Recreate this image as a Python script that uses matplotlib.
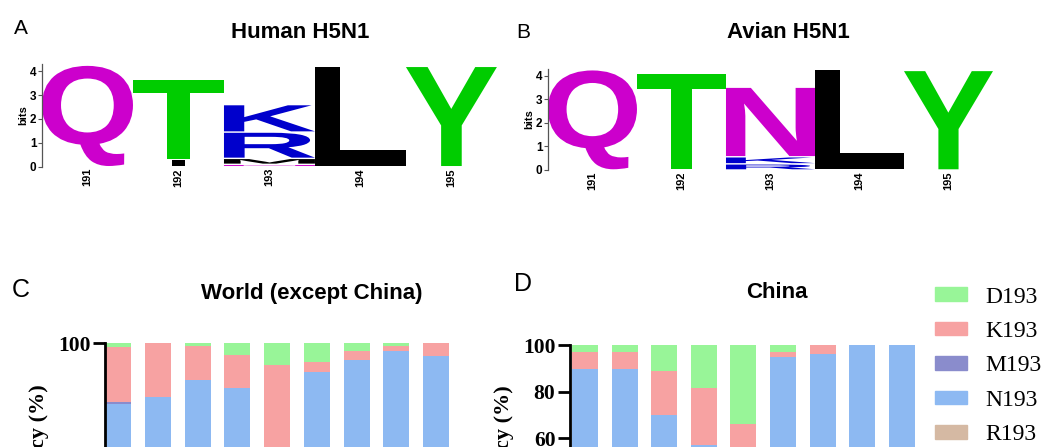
import matplotlib
matplotlib.use('Agg')
import matplotlib.pyplot as plt
import numpy as np
from matplotlib.textpath import TextPath
from matplotlib.patches import PathPatch, Patch
from matplotlib.font_manager import FontProperties
from matplotlib.transforms import Affine2D

# ---- logo data (bits per letter, stacked bottom -> top) ----
logo_sites = ['191', '192', '193', '194', '195']
human_letters = [['Q'], ['I', 'T'], ['N', 'M', 'R', 'K'], ['L'], ['Y']]
human_bits = [[4.25], [0.3, 3.36], [0.1, 0.25, 1.1, 1.15], [4.2], [4.2]]
avian_letters = [['Q'], ['T'], ['R', 'K', 'N'], ['L'], ['Y']]
avian_bits = [[4.25], [4.12], [0.26, 0.3, 2.95], [4.25], [4.22]]

# ---- frequency data (%) for residue 193 ----
world_D = [1.5, 0, 1.2, 5.1, 9.3, 8.0, 3.2, 0.9, 0]
world_K = [23.5, 23.2, 14.7, 14.0, 60.7, 4.2, 3.9, 2.3, 5.2]
world_M = [1.0, 0, 0, 0, 0, 0, 0, 0, 0]
world_N = [74.0, 76.8, 84.1, 80.9, 30.0, 87.8, 92.9, 96.8, 94.8]
world_R = [0, 0, 0, 0, 0, 0, 0, 0, 0]

china_D = [3.0, 3.0, 11.0, 18.3, 34.1, 3.0, 0, 0, 0]
china_K = [7.3, 7.3, 19.1, 24.6, 25.9, 2.1, 3.8, 0, 0]
china_M = [0, 0, 0, 0, 0, 0, 0, 0, 0]
china_N = [89.7, 89.7, 69.9, 57.1, 40.0, 94.9, 96.2, 100, 100]
china_R = [0, 0, 0, 0, 0, 0, 0, 0, 0]

variants = ['D193', 'K193', 'M193', 'N193', 'R193']
var_colors = {'D193': '#98F598', 'K193': '#F7A2A2', 'M193': '#8A8CCC',
              'N193': '#8DB9F2', 'R193': '#D5B9A3'}
letter_colors = {'Q': '#CC00CC', 'N': '#CC00CC', 'T': '#00CC00', 'Y': '#00CC00',
                 'K': '#0000CC', 'R': '#0000CC', 'L': 'black', 'M': 'black',
                 'I': 'black'}
letter_width = {'I': 0.14}

glyph_font = FontProperties(family='Liberation Sans', weight='bold')
serif = 'Liberation Serif'


def draw_letter(ax, letter, x, y, w, h, color):
    tp = TextPath((0, 0), letter, size=1, prop=glyph_font)
    bb = tp.get_extents()
    tr = Affine2D().translate(-bb.x0, -bb.y0).scale(w / bb.width, h / bb.height).translate(x, y)
    ax.add_patch(PathPatch(tr.transform_path(tp), fc=color, ec='none', lw=0))


def draw_logo(ax, letters, bits):
    for i, (lets, hs) in enumerate(zip(letters, bits)):
        bottom = 0.0
        for let, h in zip(lets, hs):
            wf = letter_width.get(let, 1.0)
            draw_letter(ax, let, i + 1 - wf / 2, bottom + 0.03, wf, h - 0.06, letter_colors[let])
            bottom += h
    ax.set_xlim(0.5, 5.5)
    ax.set_ylim(0, 4.32)
    ax.set_xticks(range(1, 6))
    ax.set_xticklabels(logo_sites, rotation=90, fontsize=8, fontweight='bold')
    ax.tick_params(axis='x', length=0, pad=1)
    ax.set_yticks([0, 1, 2, 3, 4])
    ax.set_yticklabels(['0', '1', '2', '3', '4'], fontsize=8.5, fontweight='bold')
    ax.tick_params(axis='y', length=3, width=0.8, color='#555555', pad=1)
    for s in ['top', 'right', 'bottom']:
        ax.spines[s].set_visible(False)
    ax.spines['left'].set_color('#555555')
    ax.spines['left'].set_linewidth(0.9)
    ax.spines['left'].set_bounds(0, 4.3)
    ax.set_ylabel('bits', fontsize=8, fontweight='bold', labelpad=1)


def draw_bars(ax, D, K, M, N, R, width, ticks):
    x = np.arange(len(N))
    bottom = np.zeros(len(N))
    for name, vals in [('N193', N), ('R193', R), ('M193', M), ('K193', K), ('D193', D)]:
        ax.bar(x, vals, width, bottom=bottom, color=var_colors[name], linewidth=0)
        bottom += np.array(vals)
    ax.set_ylim(0, 100)
    ax.set_yticks(ticks)
    ax.set_yticklabels([str(t) for t in ticks], fontfamily=serif, fontweight='bold', fontsize=15.5)
    for s in ['top', 'right']:
        ax.spines[s].set_visible(False)
    for s in ['left', 'bottom']:
        ax.spines[s].set_linewidth(2.0)
    ax.tick_params(axis='y', length=9, width=2.0, pad=1.5)
    ax.set_xticks([])
    ax.set_ylabel('Frequency (%)', fontfamily=serif, fontweight='bold', fontsize=16)


plt.rcParams['font.family'] = ['Liberation Sans', 'DejaVu Sans']
fig = plt.figure(figsize=(10.53, 4.47), dpi=100)

ax_a = fig.add_axes([0.0399, 0.627, 0.432, 0.231])
draw_logo(ax_a, human_letters, human_bits)
ax_b = fig.add_axes([0.5204, 0.6197, 0.4226, 0.228])
draw_logo(ax_b, avian_letters, avian_bits)

ax_c = fig.add_axes([0.0997, -0.2893, 0.337, 0.521])
ax_c.set_xlim(-0.33, 8.6)
draw_bars(ax_c, world_D, world_K, world_M, world_N, world_R, 0.654, [0, 50, 100])
ax_c.yaxis.set_label_coords(-0.158, 0.514)

ax_d = fig.add_axes([0.5413, -0.293, 0.3377, 0.521])
ax_d.set_xlim(-0.38, 8.6)
draw_bars(ax_d, china_D, china_K, china_M, china_N, china_R, 0.656, [0, 20, 40, 60, 80, 100])
ax_d.yaxis.set_label_coords(-0.157, 0.521)

handles = [Patch(color=var_colors[v]) for v in variants]
fig.legend(handles, variants, loc='upper left', bbox_to_anchor=(0.888, 0.359),
           frameon=False, prop={'family': serif, 'size': 17},
           handlelength=1.36, handleheight=0.5, handletextpad=0.76,
           labelspacing=0.57, borderaxespad=0, borderpad=0)

# titles and panel letters
fig.text(300 / 1053, 1 - 32 / 447, 'Human H5N1', ha='center', va='center', fontsize=16, fontweight='bold')
fig.text(788 / 1053, 1 - 32 / 447, 'Avian H5N1', ha='center', va='center', fontsize=16, fontweight='bold')
fig.text(312 / 1053, 1 - 293 / 447, 'World (except China)', ha='center', va='center', fontsize=16, fontweight='bold')
fig.text(777 / 1053, 1 - 293 / 447, 'China', ha='center', va='center', fontsize=16, fontweight='bold')
fig.text(21 / 1053, 1 - 29 / 447, 'A', ha='center', va='center', fontsize=15)
fig.text(523 / 1053, 1 - 32 / 447, 'B', ha='center', va='center', fontsize=15)
fig.text(21 / 1053, 1 - 290 / 447, 'C', ha='center', va='center', fontsize=18)
fig.text(523 / 1053, 1 - 284 / 447, 'D', ha='center', va='center', fontsize=18)

fig.savefig('out.png', dpi=100)
